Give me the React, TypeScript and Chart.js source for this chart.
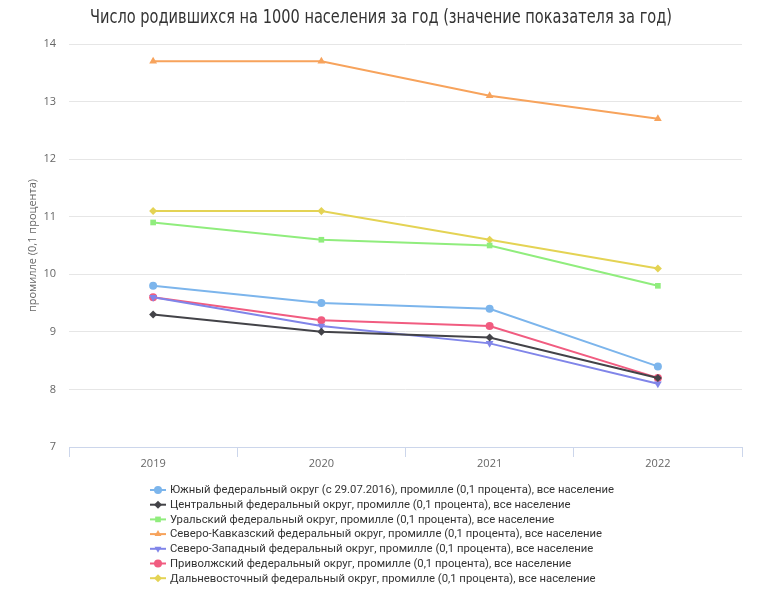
import React, { useEffect, useRef } from "react";
import { Chart, registerables } from "chart.js";
import { drawPoint } from "chart.js/helpers";

Chart.register(...registerables);

const TITLE = "Число родившихся на 1000 населения за год (значение показателя за год)";
const Y_AXIS_TITLE = "промилле (0,1 процента)";
const YEARS = ["2019", "2020", "2021", "2022"];

const SERIES_NAMES = [
  "Южный федеральный округ (с 29.07.2016), промилле (0,1 процента), все население",
  "Центральный федеральный округ, промилле (0,1 процента), все население",
  "Уральский федеральный округ, промилле (0,1 процента), все население",
  "Северо-Кавказский федеральный округ, промилле (0,1 процента), все население",
  "Северо-Западный федеральный округ, промилле (0,1 процента), все население",
  "Приволжский федеральный округ, промилле (0,1 процента), все население",
  "Дальневосточный федеральный округ, промилле (0,1 процента), все население",
];

const SOUTH = [9.8, 9.5, 9.4, 8.4];
const CENTRAL = [9.3, 9.0, 8.9, 8.2];
const URAL = [10.9, 10.6, 10.5, 9.8];
const NORTH_CAUCASUS = [13.7, 13.7, 13.1, 12.7];
const NORTH_WEST = [9.6, 9.1, 8.8, 8.1];
const VOLGA = [9.6, 9.2, 9.1, 8.2];
const FAR_EAST = [11.1, 11.1, 10.6, 10.1];

const SERIES_VALUES = [SOUTH, CENTRAL, URAL, NORTH_CAUCASUS, NORTH_WEST, VOLGA, FAR_EAST];
const COLORS = ["#7cb5ec", "#434348", "#90ed7d", "#f7a35c", "#8085e9", "#f15c80", "#e4d354"];
const POINT_STYLES = ["circle", "rectRot", "rect", "triangle", "triangle", "circle", "rectRot"];
const POINT_ROTATIONS = [0, 0, 0, 0, 180, 0, 0];
const POINT_RADII = [4, 4, 4, 4.5, 4.5, 4, 4];

const Y_MIN = 7;
const Y_MAX = 14;

const decorPlugin = {
  id: "decor",
  afterDraw(chart: any) {
    const ctx = chart.ctx;
    ctx.save();
    // Title
    ctx.fillStyle = "#333333";
    ctx.font = '19px "DejaVu Sans", sans-serif';
    ctx.textAlign = "center";
    ctx.textBaseline = "middle";
    ctx.fillText(TITLE, 381, 18, 582);

    // Y axis title
    ctx.save();
    ctx.translate(33, (chart.chartArea.top + chart.chartArea.bottom) / 2);
    ctx.rotate(-Math.PI / 2);
    ctx.font = '11px "Open Sans", sans-serif';
    ctx.fillStyle = "#666666";
    ctx.fillText(Y_AXIS_TITLE, 0, 0);
    ctx.restore();

    // Legend
    const x0 = 150;
    const y0 = 490;
    const dy = 14.7;
    ctx.textAlign = "left";
    ctx.textBaseline = "middle";
    chart.data.datasets.forEach((ds: any, i: number) => {
      const y = y0 + i * dy;
      ctx.strokeStyle = ds.borderColor;
      ctx.lineWidth = 2;
      ctx.beginPath();
      ctx.moveTo(x0, y);
      ctx.lineTo(x0 + 16, y);
      ctx.stroke();
      ctx.fillStyle = ds.borderColor;
      ctx.strokeStyle = ds.borderColor;
      ctx.lineWidth = 0;
      drawPoint(
        ctx,
        {
          pointStyle: ds.pointStyle,
          radius: 4,
          rotation: ds.pointRotation,
          borderWidth: 0,
        } as any,
        x0 + 8,
        y
      );
      ctx.font = '11.3px Roboto, "Noto Sans", sans-serif';
      ctx.fillStyle = "#333333";
      ctx.fillText(ds.label, x0 + 20, y + 0.5);
    });
    ctx.restore();
  },
};

export default function App() {
  const ref = useRef<HTMLCanvasElement>(null);
  useEffect(() => {
    if (!ref.current) return;
    const chart = new Chart(ref.current, {
      type: "line",
      data: {
        labels: YEARS,
        datasets: SERIES_VALUES.map((vals, i) => ({
          label: SERIES_NAMES[i],
          data: vals,
          borderColor: COLORS[i],
          backgroundColor: COLORS[i],
          pointBackgroundColor: COLORS[i],
          pointBorderColor: COLORS[i],
          pointBorderWidth: 0,
          pointStyle: POINT_STYLES[i] as any,
          pointRotation: POINT_ROTATIONS[i],
          pointRadius: POINT_RADII[i],
          borderWidth: 2,
          tension: 0,
          fill: false,
        })),
      },
      options: {
        animation: false,
        responsive: false,
        maintainAspectRatio: false,
        layout: { padding: { top: 44, right: 18, bottom: 126, left: 0 } },
        plugins: {
          legend: { display: false },
          title: { display: false },
          tooltip: { enabled: false },
        },
        scales: {
          x: {
            offset: true,
            grid: {
              offset: true,
              drawOnChartArea: false,
              drawTicks: true,
              tickLength: 10,
              color: "#ccd6eb",
            },
            border: { display: true, color: "#ccd6eb", width: 1 },
            ticks: {
              color: "#666666",
              font: { family: '"Open Sans", sans-serif', size: 11 },
              padding: 0,
            },
            afterFit(scale: any) {
              scale.height = 30;
            },
          },
          y: {
            min: Y_MIN,
            max: Y_MAX,
            ticks: {
              stepSize: 1,
              color: "#666666",
              font: { family: '"Open Sans", sans-serif', size: 11 },
              padding: 13,
            },
            grid: { color: "#e6e6e6", drawTicks: false, lineWidth: 1 },
            border: { display: false },
            afterFit(scale: any) {
              scale.width = 69;
            },
          },
        },
      },
      plugins: [decorPlugin],
    });
    return () => chart.destroy();
  }, []);
  return (
    <div style={{ position: "absolute", left: 0, top: 0, width: 760, height: 603, background: "#fff" }}>
      <canvas ref={ref} width={760} height={603} style={{ width: 760, height: 603 }} />
    </div>
  );
}
